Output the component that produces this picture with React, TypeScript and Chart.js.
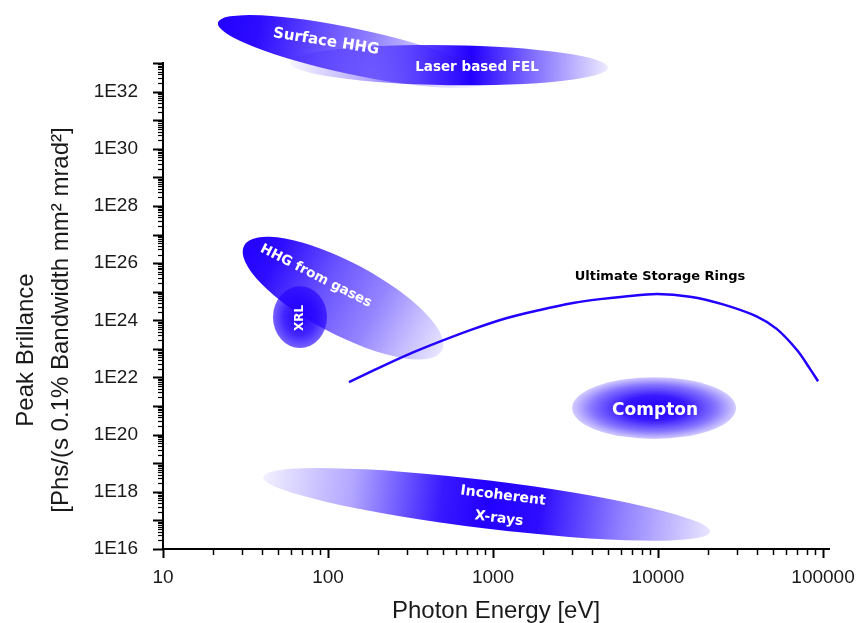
import React, { useEffect, useRef } from 'react';
import { Chart, registerables } from 'chart.js';

Chart.register(...registerables);

// ---------- DATA ----------
// Ultimate Storage Rings curve (photon energy in eV, peak brilliance)
const ringEnergy = [134, 190, 305, 484, 757, 1216, 1928, 3055, 4449, 6134, 9860, 15640, 24770, 39810, 52600, 69500, 83400, 93300];
const ringBrilliance = [6.9e21, 1.8e22, 6.3e22, 1.86e23, 4.9e23, 1.2e24, 2.3e24, 4.0e24, 5.5e24, 6.7e24, 8.3e24, 6.7e24, 3.6e24, 1.35e24, 4.9e23, 9.1e22, 2.0e22, 7.4e21];

// Source regions: major-axis end points (eV, brilliance) and half thickness in decades of brilliance
const regionNames = ['Surface HHG', 'Laser based FEL', 'Incoherent X-rays', 'HHG from gases', 'XRL', 'Compton'];
const regionStartEnergy = [21.5, 58.9, 40.4, 31, 46.4, 3013];
const regionStartBrilliance = [2.57e34, 1.02e33, 3.3e18, 4.07e26, 1.29e24, 8.5e20];
const regionEndEnergy = [959, 4980, 20650, 491, 98.6, 29700];
const regionEndBrilliance = [2.45e32, 6.9e32, 4.0e16, 8.7e22, 1.29e24, 8.5e20];
const regionHalfWidthDecades = [0.8, 0.7, 0.84, 1.26, 1.08, 1.08];

// Region labels (anchor in data units)
const labelTexts = ['Surface HHG', 'Laser based FEL', 'HHG from gases', 'XRL', 'Ultimate Storage Rings', 'Compton', 'Incoherent', 'X-rays'];
const labelEnergy = [97.3, 800, 84.5, 67.6, 10280, 9600, 1150, 1087];
const labelBrilliance = [5.6e33, 6.9e32, 3.5e25, 1.2e24, 3.5e25, 6.8e20, 7.2e17, 1.15e17];

// Axes
const xDecades = [10, 100, 1000, 10000, 100000];
const yExponents = [16, 17, 18, 19, 20, 21, 22, 23, 24, 25, 26, 27, 28, 29, 30, 31, 32, 33];
const yLabelExponents = [16, 18, 20, 22, 24, 26, 28, 30, 32];
const xMin = 10;
const xMax = 108700;
const yMin = 1e16;
const yMax = 1e33;

// ---------- STYLES ----------
const BLUE = [34, 0, 255];
const regionFill: { type: string; stops: number[][] }[] = [
  { type: 'linear', stops: [[0, 1], [0.15, 0.95], [0.35, 0.72], [0.55, 0.5], [0.75, 0.22], [0.9, 0.08], [1, 0.02]] },
  { type: 'linear', stops: [[0, 0.04], [0.25, 0.35], [0.45, 0.8], [0.57, 1], [0.75, 0.6], [1, 0.08]] },
  { type: 'linear', stops: [[0, 0.06], [0.2, 0.35], [0.4, 0.9], [0.5, 1], [0.62, 0.95], [0.8, 0.5], [1, 0.1]] },
  { type: 'linear', stops: [[0, 1], [0.15, 0.95], [0.4, 0.68], [0.65, 0.48], [0.85, 0.25], [1, 0.1]] },
  { type: 'radial', stops: [[0, 1], [0.6, 0.85], [1, 0.62]] },
  { type: 'radial', stops: [[0, 1], [0.4, 0.9], [0.75, 0.55], [1, 0.2]] },
];
const labelRotation = [9, 0, 27, -90, 0, 0, 7, 7];
const labelSize = [15, 13.5, 13.5, 12, 13, 17, 14, 14];
const labelColor = ['#fff', '#fff', '#fff', '#fff', '#000', '#fff', '#fff', '#fff'];

const rgba = (a: number) => `rgba(${BLUE[0]},${BLUE[1]},${BLUE[2]},${a})`;

const regionsPlugin = {
  id: 'regions',
  beforeDatasetsDraw(chart: any) {
    const { ctx } = chart;
    const xs = chart.scales.x;
    const ys = chart.scales.y;
    const yDec = Math.abs(ys.getPixelForValue(1e20) - ys.getPixelForValue(1e21));
    regionNames.forEach((_, i) => {
      const x1 = xs.getPixelForValue(regionStartEnergy[i]);
      const y1 = ys.getPixelForValue(regionStartBrilliance[i]);
      const x2 = xs.getPixelForValue(regionEndEnergy[i]);
      const y2 = ys.getPixelForValue(regionEndBrilliance[i]);
      const a = Math.hypot(x2 - x1, y2 - y1) / 2;
      const b = regionHalfWidthDecades[i] * yDec;
      const ang = Math.atan2(y2 - y1, x2 - x1);
      const cx = (x1 + x2) / 2;
      const cy = (y1 + y2) / 2;
      const st = regionFill[i];
      ctx.save();
      if (st.type === 'linear') {
        const g = ctx.createLinearGradient(x1, y1, x2, y2);
        st.stops.forEach(([t, al]) => g.addColorStop(t, rgba(al)));
        ctx.fillStyle = g;
        ctx.beginPath();
        ctx.ellipse(cx, cy, a, b, ang, 0, Math.PI * 2);
        ctx.fill();
      } else {
        ctx.translate(cx, cy);
        ctx.rotate(ang);
        ctx.scale(1, b / a);
        const g = ctx.createRadialGradient(0, 0, 0, 0, 0, a);
        st.stops.forEach(([t, al]) => g.addColorStop(t, rgba(al)));
        ctx.fillStyle = g;
        ctx.beginPath();
        ctx.arc(0, 0, a, 0, Math.PI * 2);
        ctx.fill();
      }
      ctx.restore();
    });
  },
  afterDatasetsDraw(chart: any) {
    const { ctx } = chart;
    const xs = chart.scales.x;
    const ys = chart.scales.y;
    labelTexts.forEach((t, i) => {
      const x = xs.getPixelForValue(labelEnergy[i]);
      const y = ys.getPixelForValue(labelBrilliance[i]);
      ctx.save();
      ctx.translate(x, y);
      ctx.rotate((labelRotation[i] * Math.PI) / 180);
      ctx.font = `bold ${labelSize[i]}px "DejaVu Sans", sans-serif`;
      ctx.fillStyle = labelColor[i];
      ctx.textAlign = 'center';
      ctx.textBaseline = 'middle';
      ctx.fillText(t, 0, 0);
      ctx.restore();
    });
  },
  afterDraw(chart: any) {
    const { ctx, chartArea } = chart;
    const xs = chart.scales.x;
    const ys = chart.scales.y;
    ctx.save();
    ctx.strokeStyle = '#000';
    // x ticks
    xs.ticks.forEach((tk: any) => {
      const v = tk.value;
      const major = xDecades.includes(v);
      const px = Math.round(xs.getPixelForValue(v)) + 0.5;
      ctx.lineWidth = major ? 2 : 1.5;
      ctx.beginPath();
      ctx.moveTo(px, chartArea.bottom);
      ctx.lineTo(px, chartArea.bottom + (major ? 9 : 6));
      ctx.stroke();
    });
    // y ticks
    ys.ticks.forEach((tk: any) => {
      const v = tk.value;
      const e = Math.log10(v);
      const major = Math.abs(e - Math.round(e)) < 1e-6;
      const py = Math.round(ys.getPixelForValue(v)) + 0.5;
      ctx.lineWidth = major ? 2 : 1.2;
      ctx.beginPath();
      ctx.moveTo(chartArea.left, py);
      ctx.lineTo(chartArea.left - (major ? 10 : 5), py);
      ctx.stroke();
    });
    // y axis title
    ctx.fillStyle = '#1a1a1a';
    ctx.font = '24px "Liberation Sans", Arial, sans-serif';
    ctx.textAlign = 'center';
    ctx.textBaseline = 'alphabetic';
    const mid = (chartArea.top + chartArea.bottom) / 2;
    ctx.save();
    ctx.translate(33, mid + 44);
    ctx.rotate(-Math.PI / 2);
    ctx.fillText('Peak Brillance', 0, 0);
    ctx.restore();
    ctx.save();
    ctx.translate(68, mid + 14);
    ctx.rotate(-Math.PI / 2);
    ctx.fillText('[Phs/(s 0.1% Bandwidth mm\u00B2 mrad\u00B2]', 0, 0);
    ctx.restore();
    ctx.restore();
  },
};

const zeroPadding = (s: any) => {
  s.paddingLeft = 0;
  s.paddingRight = 0;
  s.paddingTop = 0;
  s.paddingBottom = 0;
};

export default function App() {
  const ref = useRef<HTMLCanvasElement | null>(null);
  useEffect(() => {
    if (!ref.current) return;
    const xTickValues: number[] = [];
    xDecades.forEach((d) => {
      for (let m = 1; m <= 9; m++) {
        const v = d * m;
        if (v <= xMax && (m === 1 || d < 100000)) xTickValues.push(v);
      }
    });
    const yTickValues: number[] = [];
    yExponents.forEach((e) => {
      for (let m = 1; m <= 9; m++) {
        const v = m * Math.pow(10, e);
        if (v <= yMax * 1.0001) yTickValues.push(Number(v.toPrecision(6)));
      }
    });
    const chart = new Chart(ref.current, {
      type: 'line',
      data: {
        datasets: [
          {
            label: 'Ultimate Storage Rings',
            data: ringEnergy.map((e, i) => ({ x: e, y: ringBrilliance[i] })),
            borderColor: 'rgb(34,0,255)',
            borderWidth: 2.5,
            pointRadius: 0,
            fill: false,
            tension: 0.35,
          },
        ],
      },
      options: {
        animation: false,
        responsive: false,
        devicePixelRatio: 1,
        layout: { padding: { top: 63, right: 28, left: 0, bottom: 0 } },
        plugins: { legend: { display: false }, tooltip: { enabled: false } },
        scales: {
          x: {
            type: 'logarithmic',
            min: xMin,
            max: xMax,
            bounds: 'data',
            grid: { display: false },
            border: { display: true, color: '#000', width: 2 },
            afterBuildTicks: (s: any) => {
              s.ticks = xTickValues.map((v) => ({ value: v }));
            },
            afterFit: (s: any) => {
              s.height = 74;
              zeroPadding(s);
            },
            ticks: {
              autoSkip: false,
              maxRotation: 0,
              padding: 9,
              color: '#1a1a1a',
              font: { family: '"Liberation Sans", Arial, sans-serif', size: 19 },
              callback: (v: any) => (xDecades.includes(Number(v)) ? String(v) : ''),
            },
            title: {
              display: true,
              text: 'Photon Energy [eV]',
              color: '#1a1a1a',
              font: { family: '"Liberation Sans", Arial, sans-serif', size: 24, lineHeight: 1 },
              padding: { top: 0, bottom: 0 },
            },
          },
          y: {
            type: 'logarithmic',
            min: yMin,
            max: yMax,
            bounds: 'data',
            grid: { display: false },
            border: { display: true, color: '#000', width: 2 },
            afterBuildTicks: (s: any) => {
              s.ticks = yTickValues.map((v) => ({ value: v }));
            },
            afterFit: (s: any) => {
              s.width = 163;
              zeroPadding(s);
            },
            ticks: {
              autoSkip: false,
              padding: 17,
              color: '#1a1a1a',
              font: { family: '"Liberation Sans", Arial, sans-serif', size: 19 },
              callback: (v: any) => {
                const e = Math.log10(Number(v));
                const r = Math.round(e);
                return Math.abs(e - r) < 1e-6 && yLabelExponents.includes(r) ? `1E${r}` : '';
              },
            },
          },
        },
      },
      plugins: [regionsPlugin],
    } as any);
    return () => chart.destroy();
  }, []);
  return (
    <canvas
      ref={ref}
      width={857}
      height={623}
      style={{ position: 'fixed', left: 0, top: 0, width: 857, height: 623, background: '#fff' }}
    />
  );
}
